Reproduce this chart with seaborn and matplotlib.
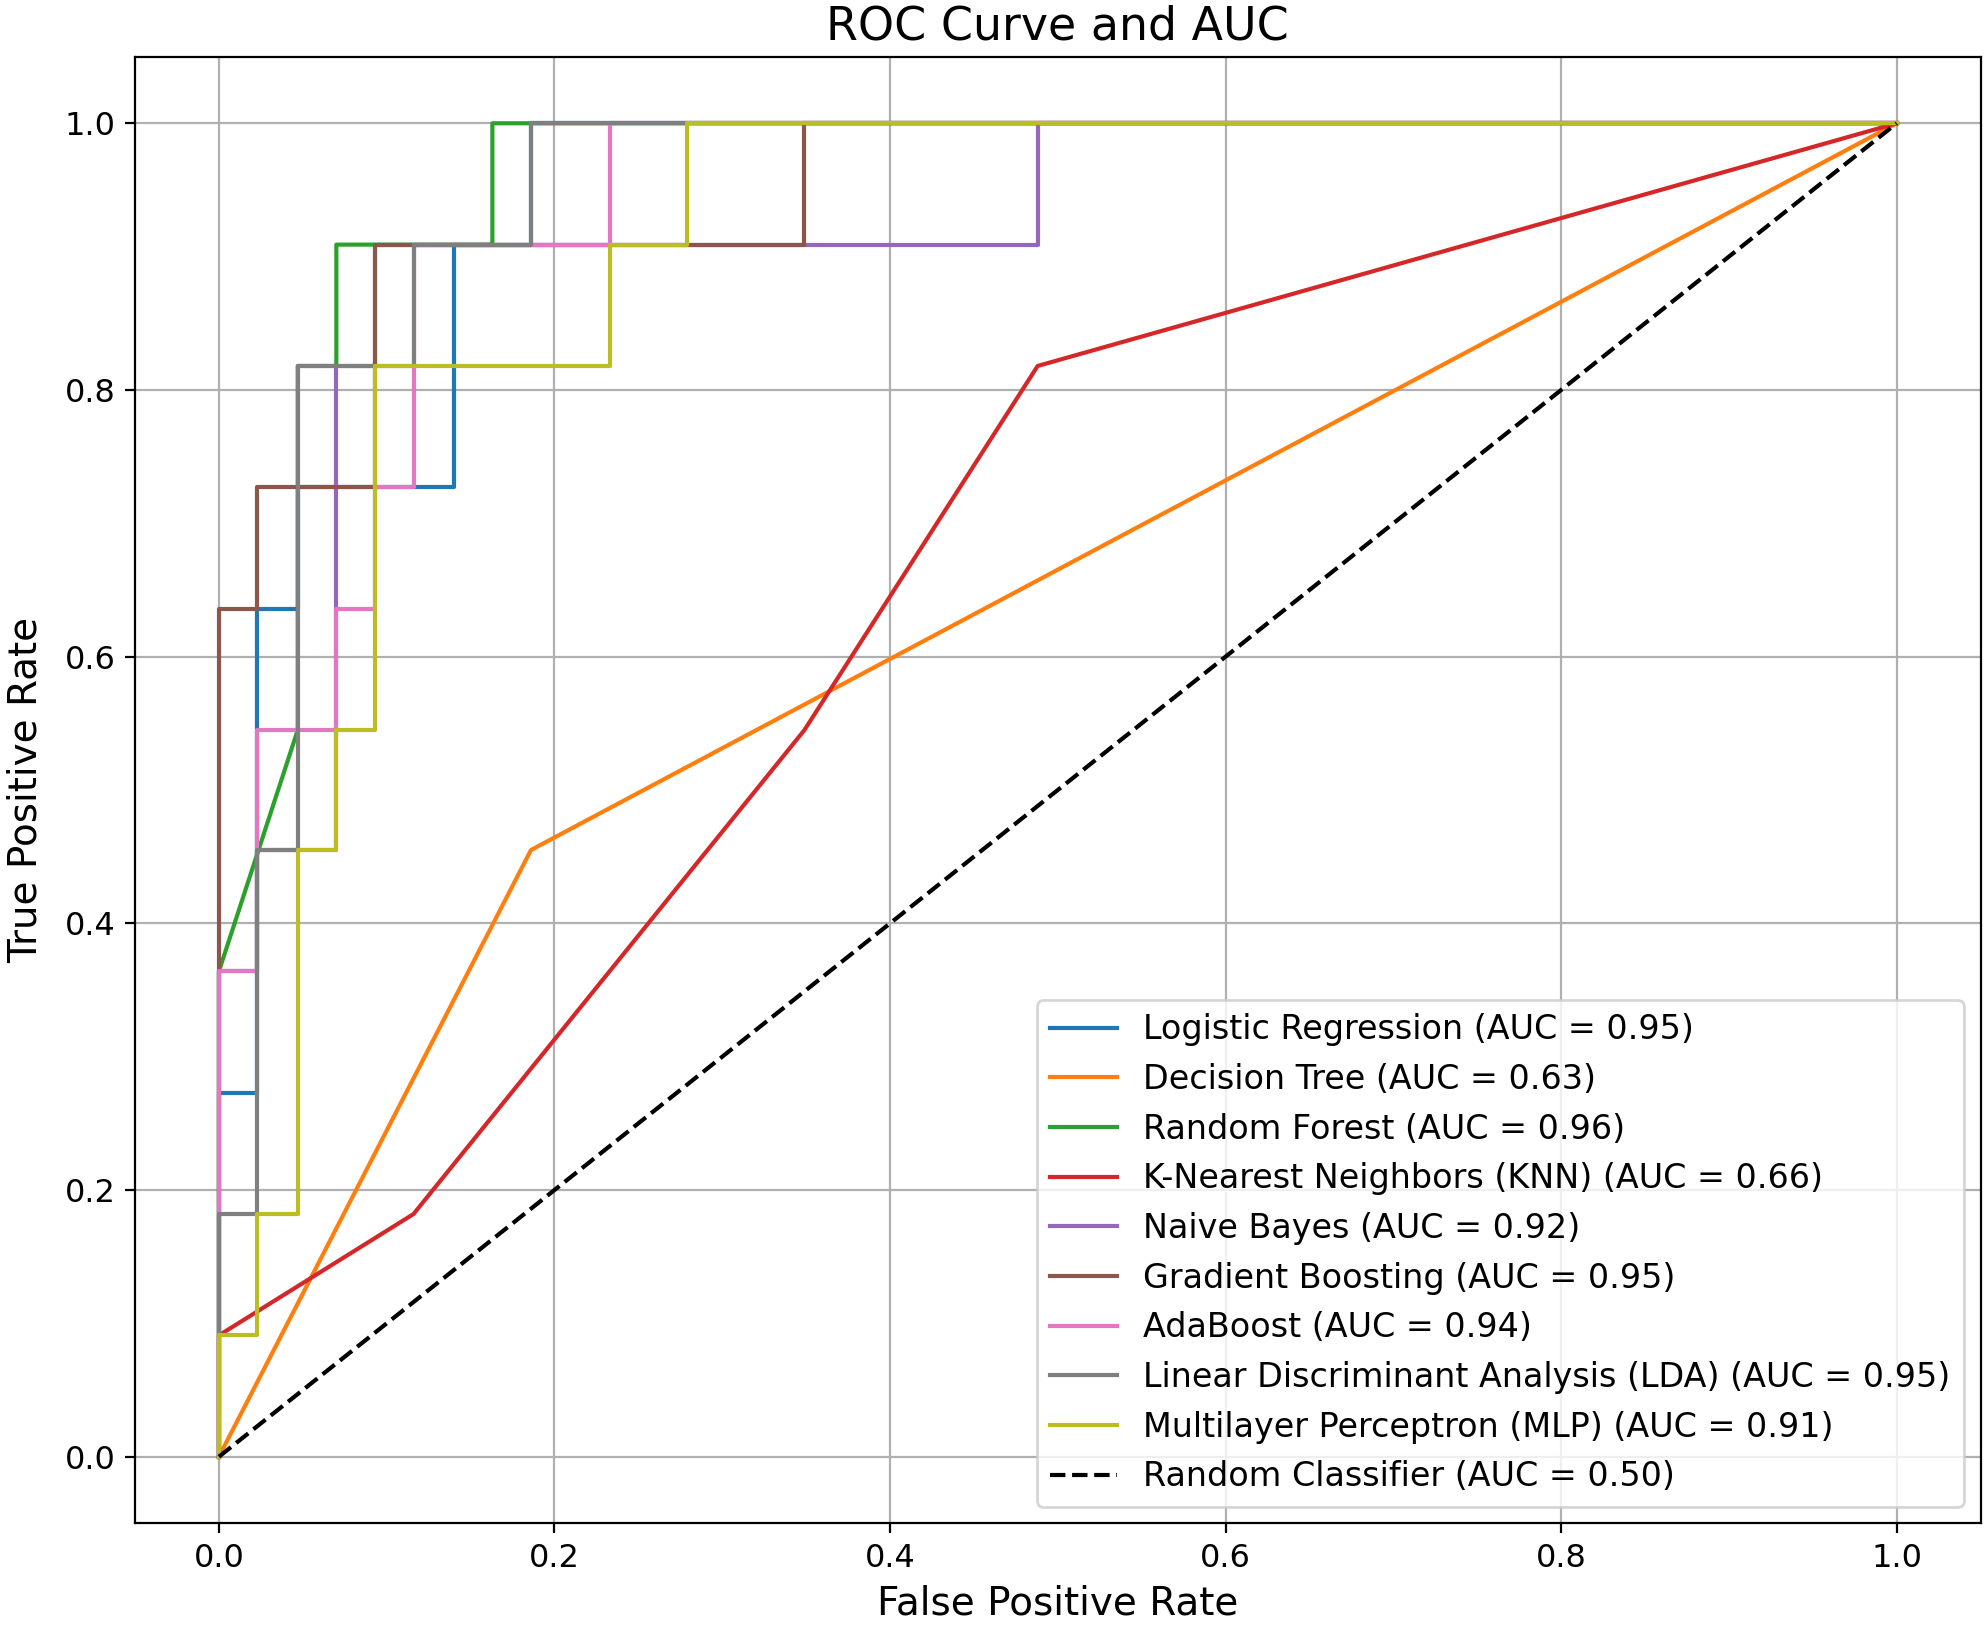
import numpy as np
import pandas as pd
import matplotlib
matplotlib.use("Agg")
import matplotlib.pyplot as plt
import seaborn as sns

# ROC points (fpr steps of ~1/43, tpr steps of ~1/11)
lr_fpr = [0.0, 0.0, 0.023, 0.023, 0.047, 0.047, 0.140, 0.140, 0.186, 0.186, 1.0]
lr_tpr = [0.0, 0.273, 0.273, 0.636, 0.636, 0.727, 0.727, 0.909, 0.909, 1.0, 1.0]

dt_fpr = [0.0, 0.186, 1.0]
dt_tpr = [0.0, 0.455, 1.0]

rf_fpr = [0.0, 0.0, 0.047, 0.047, 0.070, 0.070, 0.163, 0.163, 1.0]
rf_tpr = [0.0, 0.364, 0.545, 0.818, 0.818, 0.909, 0.909, 1.0, 1.0]

knn_fpr = [0.0, 0.0, 0.116, 0.349, 0.488, 1.0]
knn_tpr = [0.0, 0.091, 0.182, 0.545, 0.818, 1.0]

nb_fpr = [0.0, 0.0, 0.023, 0.023, 0.070, 0.070, 0.093, 0.093, 0.488, 0.488, 1.0]
nb_tpr = [0.0, 0.364, 0.364, 0.455, 0.455, 0.818, 0.818, 0.909, 0.909, 1.0, 1.0]

gb_fpr = [0.0, 0.0, 0.023, 0.023, 0.093, 0.093, 0.349, 0.349, 1.0]
gb_tpr = [0.0, 0.636, 0.636, 0.727, 0.727, 0.909, 0.909, 1.0, 1.0]

ada_fpr = [0.0, 0.0, 0.023, 0.023, 0.070, 0.070, 0.093, 0.093, 0.116, 0.116, 0.233, 0.233, 1.0]
ada_tpr = [0.0, 0.364, 0.364, 0.545, 0.545, 0.636, 0.636, 0.727, 0.727, 0.909, 0.909, 1.0, 1.0]

lda_fpr = [0.0, 0.0, 0.023, 0.023, 0.047, 0.047, 0.116, 0.116, 0.186, 0.186, 1.0]
lda_tpr = [0.0, 0.182, 0.182, 0.455, 0.455, 0.818, 0.818, 0.909, 0.909, 1.0, 1.0]

mlp_fpr = [0.0, 0.0, 0.023, 0.023, 0.047, 0.047, 0.070, 0.070, 0.093, 0.093, 0.233, 0.233, 0.279, 0.279, 1.0]
mlp_tpr = [0.0, 0.091, 0.091, 0.182, 0.182, 0.455, 0.455, 0.545, 0.545, 0.818, 0.818, 0.909, 0.909, 1.0, 1.0]

model_names = ["Logistic Regression", "Decision Tree", "Random Forest",
               "K-Nearest Neighbors (KNN)", "Naive Bayes", "Gradient Boosting",
               "AdaBoost", "Linear Discriminant Analysis (LDA)",
               "Multilayer Perceptron (MLP)"]
auc_scores = [0.95, 0.63, 0.96, 0.66, 0.92, 0.95, 0.94, 0.95, 0.91]
fpr_list = [lr_fpr, dt_fpr, rf_fpr, knn_fpr, nb_fpr, gb_fpr, ada_fpr, lda_fpr, mlp_fpr]
tpr_list = [lr_tpr, dt_tpr, rf_tpr, knn_tpr, nb_tpr, gb_tpr, ada_tpr, lda_tpr, mlp_tpr]

diag = [0.0, 1.0]

colors = sns.color_palette("tab10", len(model_names))

fig = plt.figure(figsize=(9.925, 8.13), dpi=200)
ax = fig.add_axes([135 / 1985, 102.6 / 1626, 1845.6 / 1985, 1466.8 / 1626])

for name, auc, fpr, tpr, col in zip(model_names, auc_scores, fpr_list, tpr_list, colors):
    roc_df = pd.DataFrame({"fpr": fpr, "tpr": tpr})
    sns.lineplot(data=roc_df, x="fpr", y="tpr", sort=False, estimator=None,
                 color=col, linewidth=1.5, label=f"{name} (AUC = {auc:.2f})", ax=ax)

# random classifier baseline
sns.lineplot(x=diag, y=diag, sort=False, estimator=None, color="black",
             linestyle="--", linewidth=1.5, label="Random Classifier (AUC = 0.50)", ax=ax)

ax.set_xlim(-0.05, 1.05)
ax.set_ylim(-0.05, 1.05)
ax.grid(True)
ax.tick_params(labelsize=11.5)
ax.set_title("ROC Curve and AUC", fontsize=16.5)
ax.set_xlabel("False Positive Rate", fontsize=14)
ax.set_ylabel("True Positive Rate", fontsize=14, labelpad=7)
ax.legend(loc="lower right", fontsize=12)

fig.savefig("out.png", dpi=200)
